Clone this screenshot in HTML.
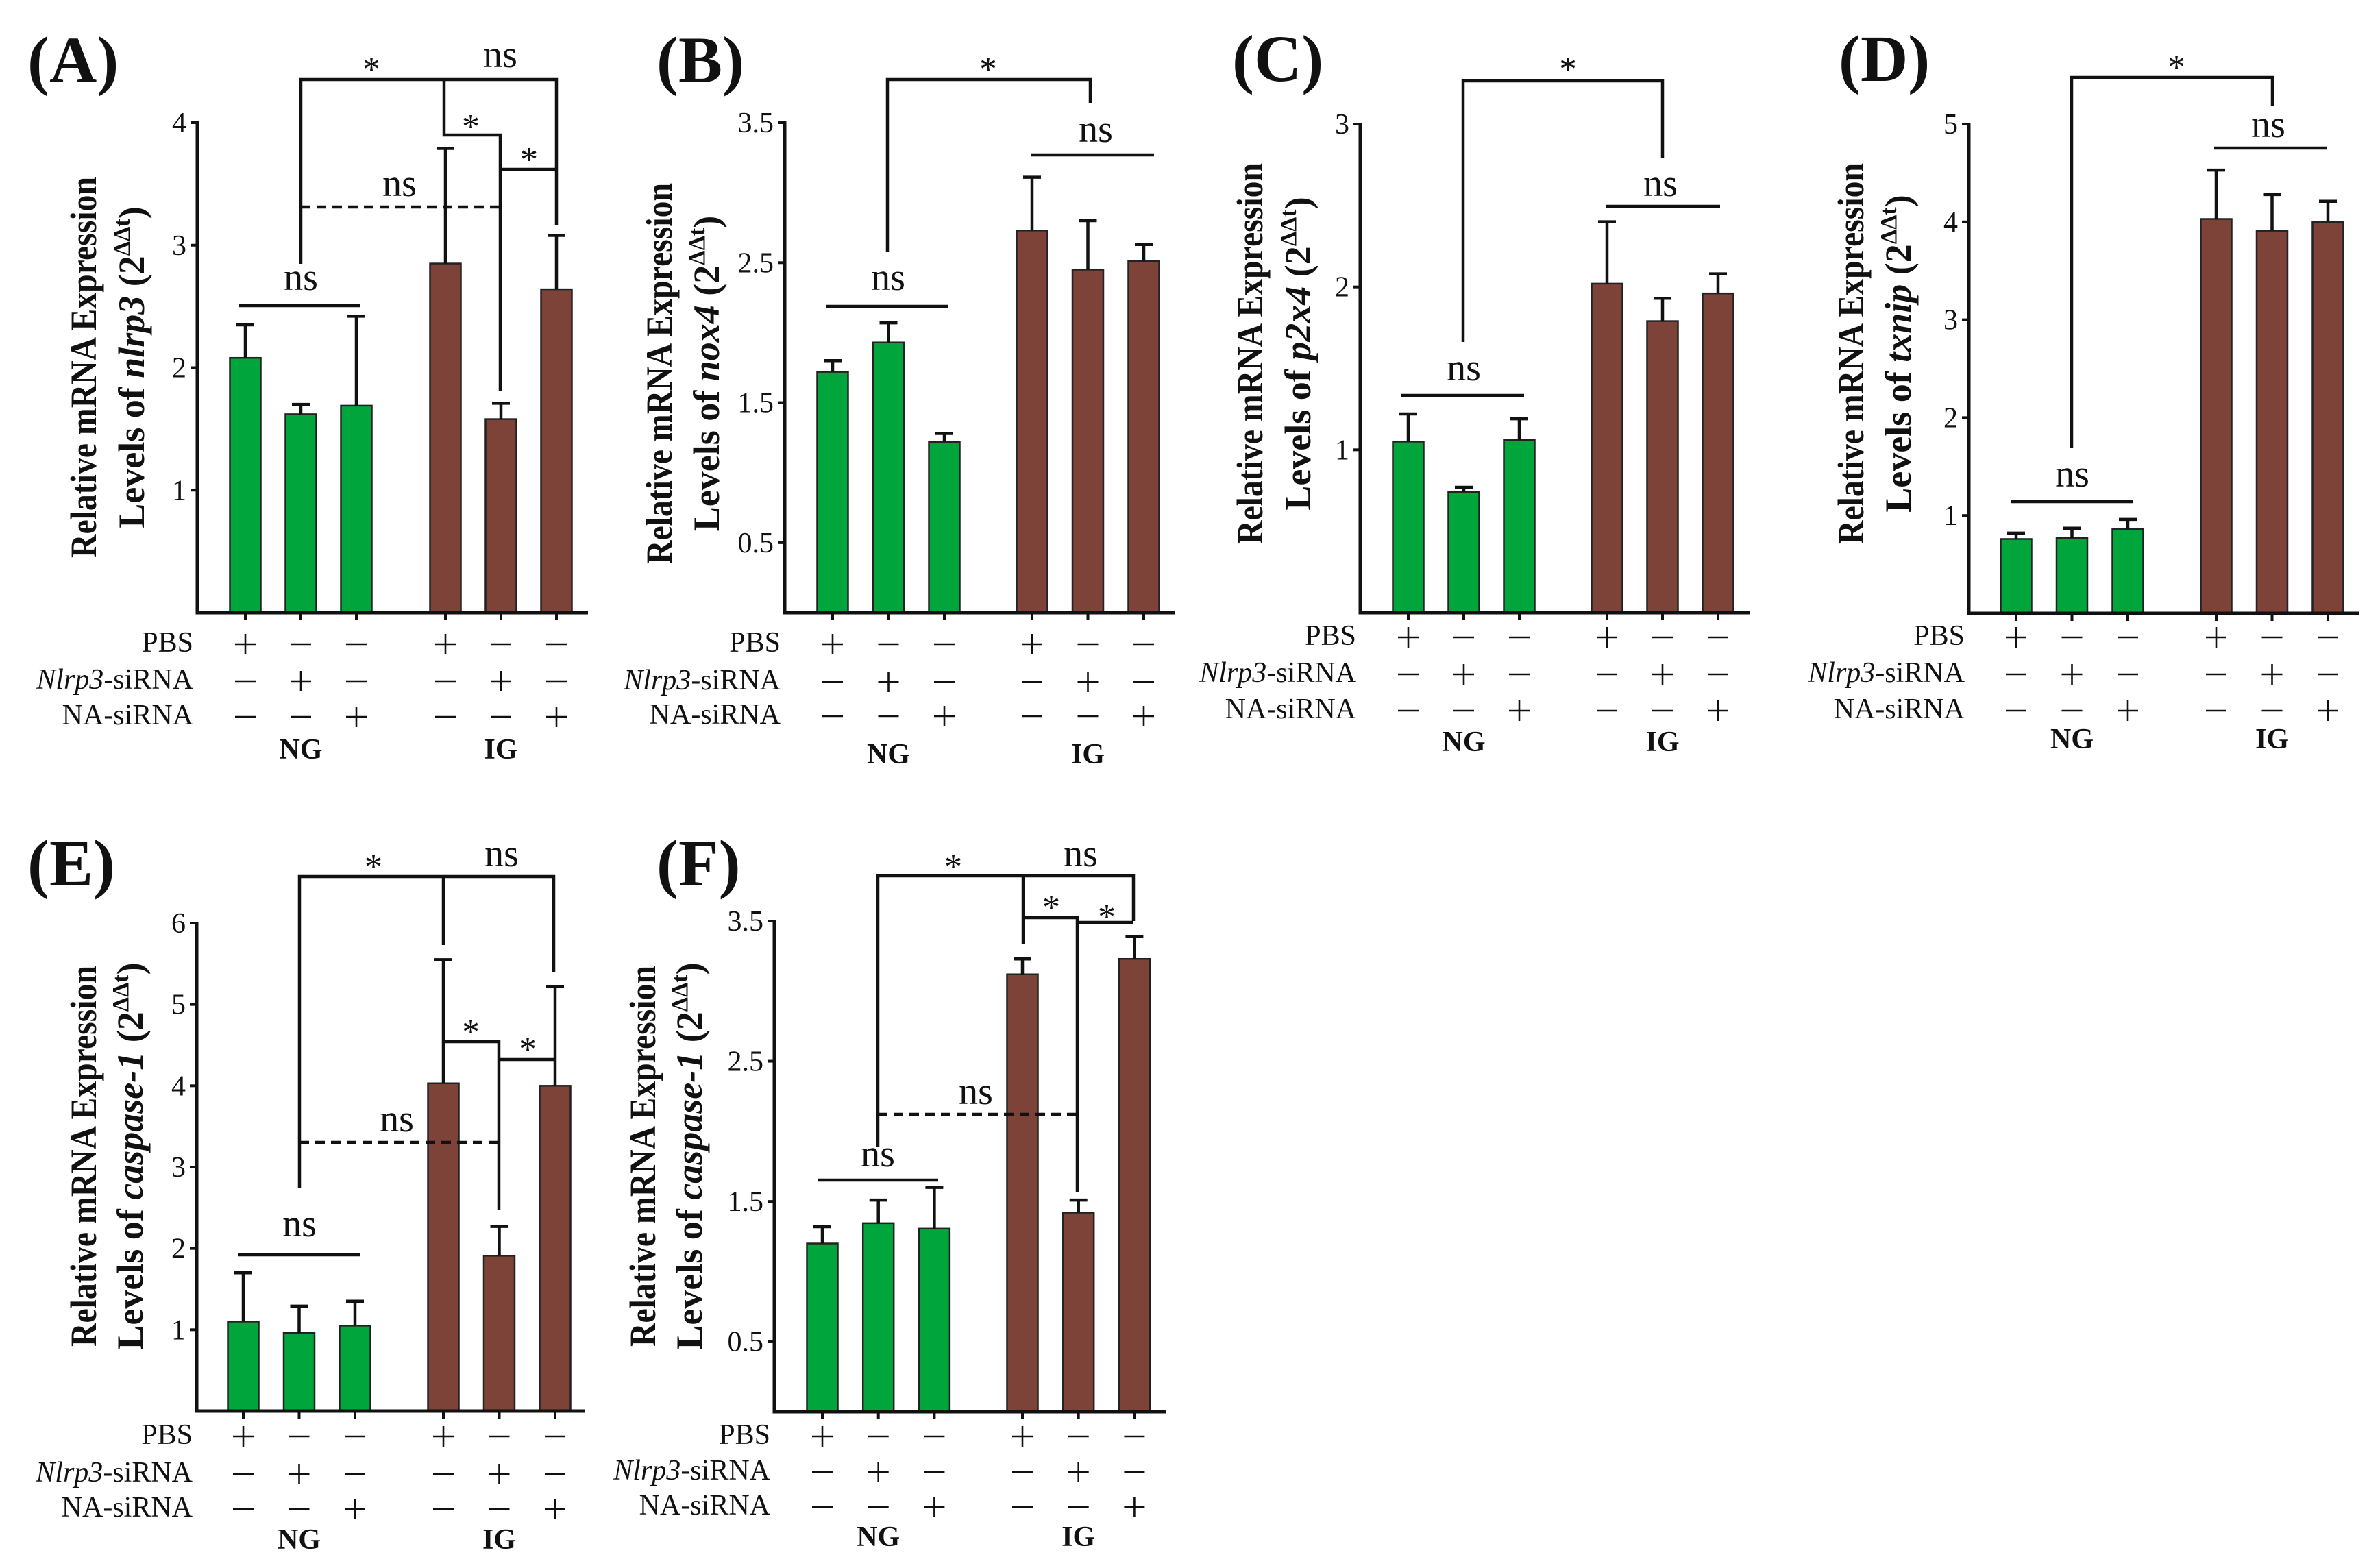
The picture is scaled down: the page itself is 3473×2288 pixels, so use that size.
<!DOCTYPE html>
<html><head><meta charset="utf-8"><style>
html,body{margin:0;padding:0;background:#fff;}
svg{display:block;}
text{font-family:"Liberation Serif","DejaVu Serif",serif;fill:#111;}
</style></head><body>
<svg id="fig" xmlns="http://www.w3.org/2000/svg" width="3473" height="2288" viewBox="0 0 3473 2288"></svg>
<script>
// ---- data ----
const categories = ["NG PBS","NG Nlrp3-siRNA","NG NA-siRNA","IG PBS","IG Nlrp3-siRNA","IG NA-siRNA"];
const pbsSigns   = ["+","-","-","+","-","-"];
const nlrpSigns  = ["-","+","-","-","+","-"];
const naSigns    = ["-","-","+","-","-","+"];
const groupLabels = ["NG","IG"];
const aValues = [2.08,1.62,1.69,2.85,1.58,2.64];
const aErrTop = [2.35,1.70,2.42,3.79,1.71,3.08];
const aTicks  = [1,2,3,4];
const bValues = [1.72,1.93,1.22,2.73,2.45,2.51];
const bErrTop = [1.80,2.07,1.28,3.11,2.80,2.63];
const bTicks  = [0.5,1.5,2.5,3.5];
const cValues = [1.05,0.74,1.06,2.02,1.79,1.96];
const cErrTop = [1.22,0.77,1.19,2.40,1.93,2.08];
const cTicks  = [1,2,3];
const dValues = [0.76,0.77,0.86,4.03,3.91,4.00];
const dErrTop = [0.82,0.87,0.96,4.53,4.28,4.21];
const dTicks  = [1,2,3,4,5];
const eValues = [1.10,0.96,1.05,4.03,1.91,4.00];
const eErrTop = [1.70,1.29,1.35,5.55,2.27,5.22];
const eTicks  = [1,2,3,4,5,6];
const fValues = [1.20,1.345,1.306,3.12,1.42,3.23];
const fErrTop = [1.32,1.51,1.60,3.23,1.51,3.39];
const fTicks  = [0.5,1.5,2.5,3.5];

const NS="http://www.w3.org/2000/svg";
const svg=document.getElementById('fig');
function mk(tag,attrs,parent){const e=document.createElementNS(NS,tag);for(const k in attrs)e.setAttribute(k,attrs[k]);(parent||svg).appendChild(e);return e;}

function drawPanel(L, vals, errs, ticks){
  const g=mk('g',{});
  
  
  const ymax=ticks[ticks.length-1];
  const y=v=>L.base-(L.base-L.top)*v/ymax;
  const x=i=>L.c0+i*L.sp+(i>=3?(L.g2-(L.c0+3*L.sp)):0);
  const pl=mk('text',{x:L.lx,y:L.ly,'font-size':96,'font-weight':'bold'},g);pl.textContent='('+L.id.toUpperCase()+')';
  
  
  vals.forEach((v,i)=>{
    const cx=x(i);
    const r=mk('rect',{x:cx-L.bw/2,y:y(v),width:L.bw,height:L.base-y(v),fill:i<3?'#00a63c':'#7d4238',stroke:'#222','stroke-width':2.5},g);
    
    
    const e=mk('path',{d:`M${cx} ${y(v)}V${y(errs[i])}M${cx-13} ${y(errs[i])}H${cx+13}`,stroke:'#111','stroke-width':4.5,fill:'none'},g);
    
    
    mk('line',{x1:cx,y1:L.base,x2:cx,y2:L.base+11,stroke:'#111','stroke-width':4},g);
    [pbsSigns,nlrpSigns,naSigns].forEach((arr,r)=>{
      const sy=L.rows[r];
      mk('line',{x1:cx-15,y1:sy,x2:cx+15,y2:sy,stroke:'#111','stroke-width':2.6},g);
      if(arr[i]==='+') mk('line',{x1:cx,y1:sy-15,x2:cx,y2:sy+15,stroke:'#111','stroke-width':2.6},g);
    });
  });
  const ax=mk('path',{d:`M${L.ax} ${L.top-2}V${L.base}H${L.xEnd}`,stroke:'#111','stroke-width':5,fill:'none'},g);
  
  
  ticks.forEach(t=>{
    mk('line',{x1:L.ax-10,y1:y(t),x2:L.ax,y2:y(t),stroke:'#111','stroke-width':4},g);
    const tl=mk('text',{x:L.ax-16,y:y(t)+14,'font-size':42,'text-anchor':'end'},g);tl.textContent=String(t);
    
    
  });
  const t1=mk('text',{x:0,y:0,'font-size':54,'font-weight':'bold','text-anchor':'middle',transform:`translate(${L.t1x+18},${L.tcy}) rotate(-90)`,textLength:556,lengthAdjust:'spacingAndGlyphs'},g);
  t1.textContent='Relative mRNA Expression';
  
  
  const t2=mk('text',{x:0,y:0,'font-size':54,'font-weight':'bold','text-anchor':'middle',transform:`translate(${L.t2x+18},${L.tcy}) rotate(-90)`},g);
  
  
  t2.innerHTML=`<tspan>Levels of </tspan><tspan font-style="italic">${L.gene}</tspan><tspan> (2</tspan><tspan font-size="34" dy="-21">ΔΔt</tspan><tspan dy="21">)</tspan>`;
  const rl=['PBS',null,'NA-siRNA'];
  L.rows.forEach((ry,r)=>{
    const t=mk('text',{x:L.ax-6,y:ry+11,'font-size':42,'text-anchor':'end'},g);
    
    
    if(r===1) t.innerHTML='<tspan font-style="italic">Nlrp3</tspan>-siRNA'; else t.textContent=rl[r];
  });
  groupLabels.forEach((gl,k)=>{
    const t=mk('text',{x:x(1+3*k),y:L.gy+11,'font-size':42,'font-weight':'bold','text-anchor':'middle'},g);
    t.textContent=gl;
    
    
  });
  L.ann.forEach(a=>{
    if(a[0]==='l'||a[0]==='d'){
      const p=mk('path',{d:a[1],stroke:'#111','stroke-width':4.5,fill:'none'},g);
      if(a[0]==='d') p.setAttribute('stroke-dasharray','14 9');
      
      
    } else {
      const t=mk('text',{x:a[1],y:a[2]+(a[3]==='*'?22:10),'font-size':a[3]==='*'?52:56,'text-anchor':'middle'},g);
      t.textContent=a[3];
      
      
    }
  });
}

drawPanel({id:'a',ax:288,base:894,top:179,xEnd:858,c0:358,sp:81,g2:650,bw:45,lx:40,ly:120,t1x:122,t2x:192,tcy:536,gene:'nlrp3',rows:[940,994,1046],gy:1096,
 ann:[['l','M439 385V116H812V329M648 116V197H730V571M730 247H812'],['d','M439 302H730'],['l','M349 446H526'],
 ['t',542,96,'*'],['t',730,88,'ns'],['t',687,180,'*'],['t',772,228,'*'],['t',583,276,'ns'],['t',439,413,'ns']]}, aValues,aErrTop,aTicks);

drawPanel({id:'b',ax:1145,base:894,top:179,xEnd:1715,c0:1215,sp:81.5,g2:1506,bw:45,lx:958,ly:120,t1x:962,t2x:1031,tcy:545,gene:'nox4',rows:[940,995,1045],gy:1103,
 ann:[['l','M1295 368V116H1591V151'],['l','M1505 226H1684'],['l','M1206 447H1383'],
 ['t',1442,96,'*'],['t',1599,197,'ns'],['t',1296,413,'ns']]}, bValues,bErrTop,bTicks);

drawPanel({id:'c',ax:1985,base:894,top:181,xEnd:2553,c0:2055,sp:81,g2:2345,bw:45,lx:1798,ly:118,t1x:1824,t2x:1894,tcy:516,gene:'p2x4',rows:[930,984,1037],gy:1085,
 ann:[['l','M2135 499V118H2426V231'],['l','M2344 301H2510'],['l','M2045 577H2224'],
 ['t',2288,96,'*'],['t',2423,276,'ns'],['t',2136,545,'ns']]}, cValues,cErrTop,cTicks);

drawPanel({id:'d',ax:2873,base:895,top:181,xEnd:3443,c0:2942,sp:81.5,g2:3234,bw:45,lx:2683,ly:118,t1x:2701,t2x:2770,tcy:516,gene:'txnip',rows:[930,984,1037],gy:1081,
 ann:[['l','M3023 654V113H3316V155'],['l','M3231 216H3395'],['l','M2934 732H3112'],
 ['t',3176,93,'*'],['t',3310,190,'ns'],['t',3024,700,'ns']]}, dValues,dErrTop,dTicks);

drawPanel({id:'e',ax:287,base:2059,top:1347,xEnd:854,c0:355,sp:81.5,g2:647,bw:45,lx:40,ly:1292,t1x:122,t2x:190,tcy:1687,gene:'caspase-1',rows:[2096,2151,2202],gy:2249,
 ann:[['l','M437 1734V1279H808V1419M647 1279V1379M647 1520H728V1765M728 1546H808'],['d','M437 1667H728'],['l','M348 1831H525'],
 ['t',545,1260,'*'],['t',732,1254,'ns'],['t',687,1501,'*'],['t',770,1526,'*'],['t',579,1641,'ns'],['t',437,1794,'ns']]}, eValues,eErrTop,eTicks);

drawPanel({id:'f',ax:1130,base:2060,top:1344,xEnd:1701,c0:1200,sp:81.7,g2:1492,bw:45,lx:958,ly:1292,t1x:938,t2x:1006,tcy:1687,gene:'caspase-1',rows:[2096,2148,2199],gy:2245,
 ann:[['l','M1281 1674V1278H1654V1344M1493 1278V1378M1493 1339H1572V1739M1572 1346H1654'],['d','M1281 1626H1572'],['l','M1193 1722H1369'],
 ['t',1391,1260,'*'],['t',1577,1254,'ns'],['t',1534,1319,'*'],['t',1615,1333,'*'],['t',1424,1601,'ns'],['t',1281,1692,'ns']]}, fValues,fErrTop,fTicks);
</script>
</body></html>
